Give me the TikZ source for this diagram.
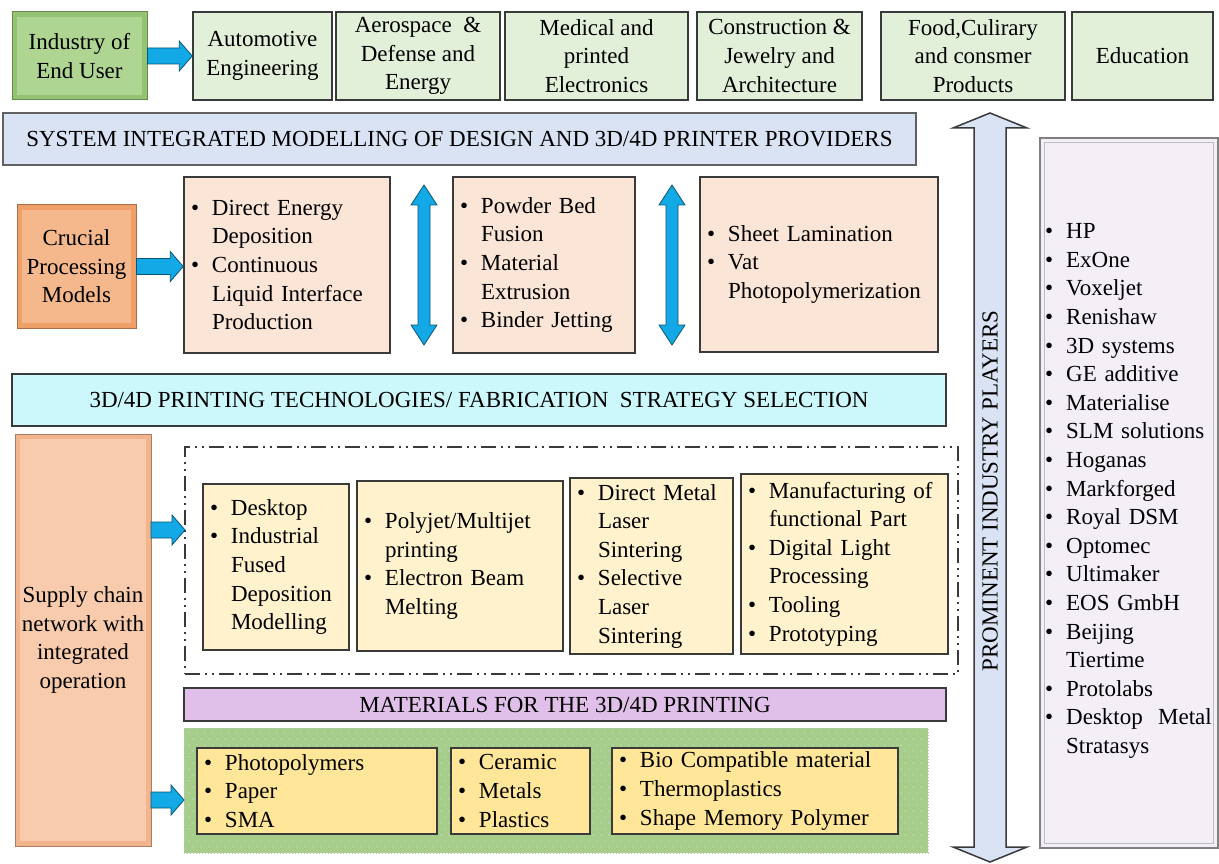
\documentclass[tikz,border=0pt]{standalone}
\usepackage{fontspec}
\setmainfont{Liberation Serif}
\usetikzlibrary{calc}
\definecolor{topg}{HTML}{E2F0D9}
\definecolor{indo}{HTML}{94C473}
\definecolor{indi}{HTML}{AFD593}
\definecolor{sysb}{HTML}{DAE3F3}
\definecolor{peach}{HTML}{FBE5D6}
\definecolor{cruo}{HTML}{EEA068}
\definecolor{crui}{HTML}{F5B88C}
\definecolor{supo}{HTML}{F2B48C}
\definecolor{supi}{HTML}{F8CBAD}
\definecolor{techc}{HTML}{CCF8FB}
\definecolor{ylw}{HTML}{FFF2CC}
\definecolor{purp}{HTML}{E0BFE9}
\definecolor{grnf}{HTML}{A6CE8A}
\definecolor{dotc}{HTML}{CDEBE0}
\definecolor{gold}{HTML}{FFE699}
\definecolor{lav}{HTML}{F4EEF6}
\definecolor{blu}{HTML}{12A9E6}
\definecolor{dk}{HTML}{3A3A3A}
\newcommand\fs{\fontsize{23}{28.6}\selectfont}
\newcommand\bu{\makebox[21pt][l]{\textbullet}}
\newcommand\ind{\hspace*{21pt}}
\newcommand\harr[2]{\draw[blarrow] let \p1=(#1), \p2=(#2) in
  (\x1,\y1+8pt) -- (\x2-13pt,\y1+8pt) -- (\x2-13pt,\y1+15pt) -- (\x2,\y1)
  -- (\x2-13pt,\y1-15pt) -- (\x2-13pt,\y1-8pt) -- (\x1,\y1-8pt) -- cycle;}
\newcommand\vdarr[6]{\draw[#1] let \p1=(#2), \p2=(#3) in
  (\x1,\y1) -- (\x1+#5,\y1-#6) -- (\x1+#4,\y1-#6) -- (\x1+#4,\y2+#6) -- (\x1+#5,\y2+#6)
  -- (\x2,\y2) -- (\x1-#5,\y2+#6) -- (\x1-#4,\y2+#6) -- (\x1-#4,\y1-#6) -- (\x1-#5,\y1-#6) -- cycle;}
\tikzset{
  every node/.style={font=\fs, inner sep=0pt},
  bevel/.style={path picture={\fill[#1] ([shift={(5pt,-5pt)}]path picture bounding box.north west) rectangle ([shift={(-5pt,5pt)}]path picture bounding box.south east);}},
  topbox/.style={draw=dk, line width=1.5pt, fill=topg, align=center},
  bar/.style={draw=dk, line width=1.5pt, align=center},
  lbox/.style={draw=dk, line width=1.5pt, align=left, inner xsep=7pt},
  blarrow/.style={fill=blu, draw=blu!50!black, line width=0.8pt},
  bigarrow/.style={fill=sysb, draw=dk, line width=1.5pt},
  frame/.style={draw=dk, line width=2.6pt, dash pattern=on 15pt off 5pt on 2pt off 5pt on 2pt off 5pt}
}
\begin{document}
\begin{tikzpicture}[x=1pt,y=-1pt]
\useasboundingbox (0,0) rectangle (1219,864);
% top row
\node[draw=indo!70!black, line width=1pt, fill=indo, bevel=indi, align=center, minimum width=135pt, minimum height=88pt] (ind) at (79.5,56) {Industry of\\End User};
\node[topbox, minimum width=139pt, minimum height=88pt] (auto) at (262.5,56) {Automotive\\Engineering};
\node[topbox, minimum width=164pt, minimum height=88pt] (aero) at (418,56) {Aerospace\ \ \&\\Defense and\\Energy};
\node[topbox, minimum width=183pt, minimum height=88pt] (med) at (596.5,56) {Medical and\\printed\\Electronics};
\node[topbox, minimum width=165pt, minimum height=88pt] (cons) at (779.5,56) {Construction \&\\Jewelry and\\Architecture};
\node[topbox, minimum width=184pt, minimum height=88pt] (food) at (973,56) {Food,Culirary\\and consmer\\Products};
\node[topbox, minimum width=141pt, minimum height=88pt] (edu) at (1142.5,56) {Education};
\harr{ind.east}{auto.west}
% system bar
\node[bar, fill=sysb, draw=dk!80, minimum width=913pt, minimum height=52pt] (sys) at (459.5,139) {SYSTEM INTEGRATED MODELLING OF DESIGN AND 3D/4D PRINTER PROVIDERS};
% processing models
\node[draw=cruo!70!black, line width=1pt, fill=cruo, bevel=crui, align=center, minimum width=119pt, minimum height=123pt] (cru) at (76.5,266.5) {Crucial\\Processing\\Models};
\node[lbox, fill=peach, minimum width=206pt, minimum height=176pt, text width=192pt] (b1) at (287,265)
 {\bu Direct Energy\\\ind Deposition\\\bu Continuous\\\ind Liquid Interface\\\ind Production};
\node[lbox, fill=peach, minimum width=182pt, minimum height=176pt, text width=168pt] (b2) at (544,265)
 {\bu Powder Bed\\\ind Fusion\\\bu Material\\\ind Extrusion\\\bu Binder Jetting};
\node[lbox, fill=peach, minimum width=238pt, minimum height=175pt, text width=224pt] (b3) at (819,264.5)
 {\bu Sheet Lamination\\\bu Vat\\\ind Photopolymerization};
\harr{cru.east}{b1.west}
\coordinate (va1t) at (424,185); \coordinate (va1b) at (424,345);
\coordinate (va2t) at (672,185); \coordinate (va2b) at (672,345);
\vdarr{blarrow}{va1t}{va1b}{6pt}{13pt}{20pt}
\vdarr{blarrow}{va2t}{va2b}{6pt}{13pt}{20pt}
% technologies bar
\node[bar, fill=techc, minimum width=934pt, minimum height=52pt] (tech) at (479,400) {3D/4D PRINTING TECHNOLOGIES/ FABRICATION\ \ STRATEGY SELECTION};
% supply chain
\node[draw=supo!70!black, line width=1pt, fill=supo, bevel=supi, align=center, minimum width=136pt, minimum height=412pt] (sup) at (83,640) {Supply chain\\network with\\integrated\\operation};
% dashed frame
\node[frame, minimum width=773pt, minimum height=227pt] (fr) at (571.5,560.5) {};
\node[lbox, fill=ylw, minimum width=146pt, minimum height=166pt, text width=132pt] (desk) at (276,567)
 {\bu Desktop\\\bu Industrial\\\ind Fused\\\ind Deposition\\\ind Modelling};
\node[lbox, fill=ylw, minimum width=206pt, minimum height=170pt, text width=192pt] (poly) at (460,566)
 {\bu Polyjet/Multijet\\\ind printing\\\bu Electron Beam\\\ind Melting};
\node[lbox, fill=ylw, minimum width=163pt, minimum height=176pt, text width=149pt] (dmls) at (651.5,566)
 {\bu Direct Metal\\\ind Laser\\\ind Sintering\\\bu Selective\\\ind Laser\\\ind Sintering};
\node[lbox, fill=ylw, minimum width=207pt, minimum height=180pt, text width=193pt] (manu) at (844.5,564)
 {\bu Manufacturing of\\\ind functional Part\\\bu Digital Light\\\ind Processing\\\bu Tooling\\\bu Prototyping};
\coordinate (s1) at (151,530); \coordinate (f1) at (185,530);
\harr{s1}{f1}
% materials
\node[bar, fill=purp, minimum width=762pt, minimum height=33pt] (mat) at (565,704.5) {MATERIALS FOR THE 3D/4D PRINTING};
\node[fill=grnf, draw=dotc!70!gray, line width=1pt, dotted, minimum width=744pt, minimum height=125pt] (grn) at (556,790.5) {};
\foreach \i in {0,...,91} \foreach \j in {0,...,19}
  {\fill[dotc] ({189+8*\i+4*mod(\j,2)},{733+6*\j}) circle (0.55pt);}
\node[lbox, fill=gold, minimum width=240pt, minimum height=86pt, text width=226pt] (photo) at (317,791)
 {\bu Photopolymers\\\bu Paper\\\bu SMA};
\node[lbox, fill=gold, minimum width=139pt, minimum height=86pt, text width=125pt] (cer) at (520.5,791)
 {\bu Ceramic\\\bu Metals\\\bu Plastics};
\node[lbox, fill=gold, minimum width=286pt, minimum height=86pt, text width=272pt] (bio) at (755,791)
 {\bu Bio Compatible material\\\bu Thermoplastics\\\bu Shape Memory Polymer};
\coordinate (s2) at (151,800); \coordinate (f2) at (184,800);
\harr{s2}{f2}
% big arrow
\coordinate (bat) at (990,113); \coordinate (bab) at (990,862);
\vdarr{bigarrow}{bat}{bab}{16pt}{37pt}{15pt}
\node[rotate=90] (pip) at (990,491) {PROMINENT INDUSTRY PLAYERS};
% players list
\node[draw=gray, line width=1.5pt, fill=lav, minimum width=178pt, minimum height=710pt] (rb) at (1129,493) {};
\draw[gray!50, line width=1pt] ([shift={(5pt,-5pt)}]rb.north west) rectangle ([shift={(-5pt,5pt)}]rb.south east);
\node[anchor=west, align=left, text width=170pt] (players) at (1045,491)
 {\bu HP\\\bu ExOne\\\bu Voxeljet\\\bu Renishaw\\\bu 3D systems\\\bu GE additive\\\bu Materialise\\\bu SLM solutions\\\bu Hoganas\\\bu Markforged\\\bu Royal DSM\\\bu Optomec\\\bu Ultimaker\\\bu EOS GmbH\\\bu Beijing\\\ind Tiertime\\\bu Protolabs\\\bu Desktop\ \ Metal\\\ind Stratasys};
\end{tikzpicture}
\end{document}
